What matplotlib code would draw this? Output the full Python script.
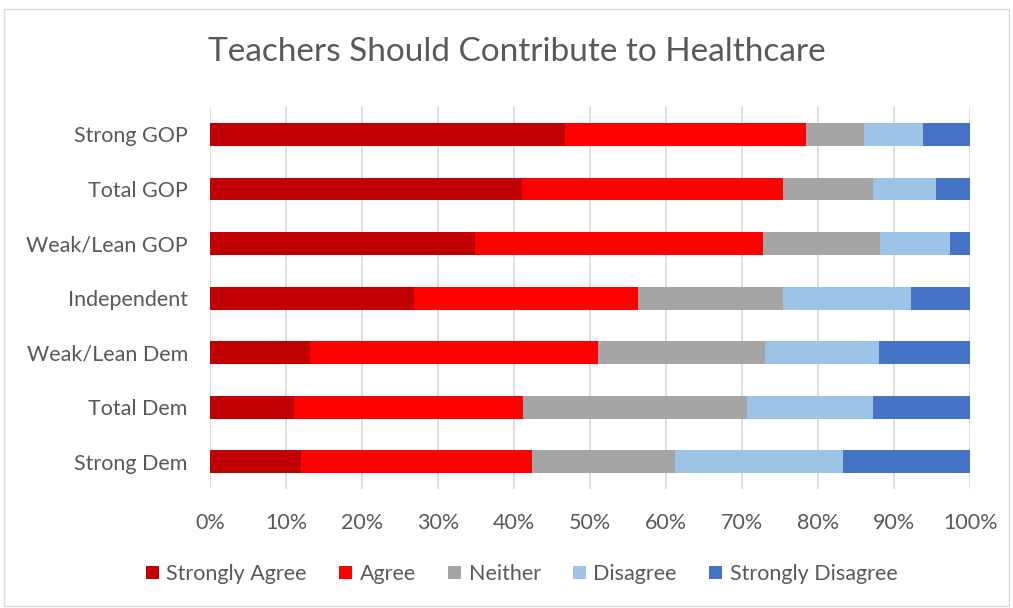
import numpy as np
import matplotlib
matplotlib.use("Agg")
import matplotlib.pyplot as plt
from matplotlib.patches import Rectangle

plt.rcParams['font.family'] = ['Lato', 'DejaVu Sans']

# data (percent of respondents)
groups = ['Strong GOP', 'Total GOP', 'Weak/Lean GOP', 'Independent',
          'Weak/Lean Dem', 'Total Dem', 'Strong Dem']
strongly_agree = [46.7, 41.1, 34.9, 26.8, 13.1, 11.1, 12.0]
agree = [31.7, 34.3, 37.9, 29.5, 37.9, 30.1, 30.4]
neither = [7.7, 11.8, 15.3, 19.1, 22.0, 29.5, 18.8]
disagree = [7.7, 8.3, 9.3, 16.8, 15.0, 16.5, 22.1]
strongly_disagree = [6.2, 4.5, 2.6, 7.8, 12.0, 12.8, 16.7]

series = ['Strongly Agree', 'Agree', 'Neither', 'Disagree', 'Strongly Disagree']
colors = ['#c00000', '#ff0000', '#a5a5a5', '#9dc3e6', '#4472c4']
values = [strongly_agree, agree, neither, disagree, strongly_disagree]

txt = '#595959'

fig = plt.figure(figsize=(10.13, 6.08), dpi=100)
fig.patches.append(Rectangle((0.004, 0.004), 0.992, 0.981, transform=fig.transFigure,
                             fill=False, edgecolor='#d9d9d9', linewidth=1))

ax = fig.add_axes([0.2073, 0.1957, 0.7503, 0.628])
y = np.arange(len(groups))
left = np.zeros(len(groups))
for name, col, vals in zip(series, colors, values):
    vals = np.array(vals)
    ax.barh(y, vals, left=left, height=0.42, color=col, label=name, zorder=3)
    left += vals

ax.set_xlim(0, 100)
ax.set_ylim(len(groups) - 0.5, -0.5)
ax.set_yticks(y)
ax.set_yticklabels(groups)
ax.set_xticks(np.arange(0, 101, 10))
ax.set_xticklabels([f'{v}%' for v in range(0, 101, 10)])
ax.xaxis.grid(True, color='#d9d9d9', linewidth=1.2, zorder=0)
for s in ax.spines.values():
    s.set_visible(False)
ax.tick_params(axis='both', length=0, labelsize=15.5, labelcolor=txt)
ax.tick_params(axis='y', pad=16)
ax.tick_params(axis='x', pad=17)

fig.text(0.51, 0.915, 'Teachers Should Contribute to Healthcare', ha='center', va='center',
         fontsize=24, color=txt)

fig.legend(loc='center', bbox_to_anchor=(0.515, 0.056), ncol=5, frameon=False,
           fontsize=15.5, labelcolor=txt, handlelength=0.6, handleheight=0.6,
           columnspacing=1.5, handletextpad=0.35)

fig.savefig('out.png', dpi=100)
